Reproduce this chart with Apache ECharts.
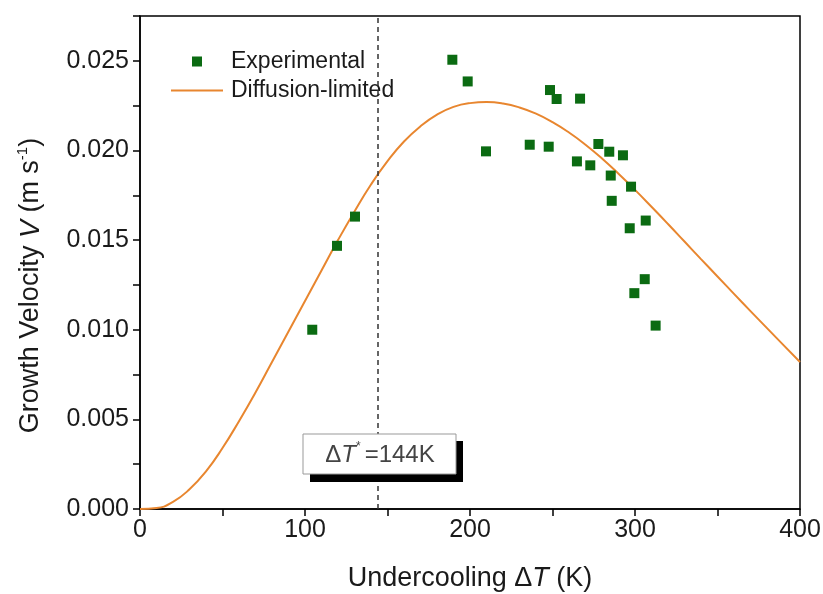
<!DOCTYPE html>
<html>
<head>
<meta charset="utf-8">
<script src="https://cdn.jsdelivr.net/npm/echarts@6/dist/echarts.min.js"></script>
<style>html,body{margin:0;padding:0;background:#fff}#c{width:823px;height:594px}</style>
</head>
<body>
<div id="c"></div>
<script>
// Experimental points: undercooling (K), growth velocity (m/s)
const expX = [104.4, 119.4, 130.3, 189.3, 198.6, 209.7, 236.2, 247.7, 248.5, 252.5, 266.7, 264.8, 272.9, 277.8, 284.4, 285.3, 285.9, 292.7, 297.6, 296.8, 306.5, 305.9, 299.6, 312.5];
const expY = [0.0100, 0.01468, 0.01631, 0.02506, 0.02385, 0.01995, 0.02032, 0.02021, 0.02337, 0.02287, 0.02289, 0.01939, 0.01917, 0.02036, 0.01993, 0.0186, 0.01719, 0.01973, 0.01798, 0.01566, 0.01609, 0.01282, 0.01204, 0.01023];
// Diffusion-limited model curve
const modelX = [0,10,20,30,40,50,60,70,80,90,100,110,120,130,140,150,160,170,180,190,200,210,220,230,240,250,260,270,280,290,300,310,320,330,340,350,360,370,380,390,400];
const modelY = [0,0.00005,0.0004,0.0011,0.0021,0.0034,0.0049,0.0065,0.0082,0.0099,0.0116,0.0133,0.0150,0.0166,0.0181,0.0194,0.0205,0.02135,0.0220,0.02243,0.02264,0.0227,0.02262,0.0224,0.02205,0.02158,0.0210,0.02032,0.01955,0.0187,0.0178,0.01686,0.0159,0.01492,0.01394,0.01297,0.0120,0.01104,0.01009,0.00914,0.0082];
const criticalUndercooling = 144;

const chart = echarts.init(document.getElementById('c'), null, {renderer:'canvas'});
const FONT = 'Liberation Sans, Arial, sans-serif';
const green = '#0b6b12', orange = '#e8862f', ink = '#1a1a1a';

chart.setOption({
  animation: false,
  textStyle: {fontFamily: FONT},
  grid: {left: 140, right: 23, top: 16, bottom: 85, show: true, borderColor: '#000', borderWidth: 1.5, containLabel: false, outerBoundsMode: 'none'},
  legend: {
    left: 170, top: 50, orient: 'vertical', itemWidth: 52, itemHeight: 10, itemGap: 6, padding: 0,
    textStyle: {fontSize: 23, color: ink, fontFamily: FONT, padding: [0,0,0,3]},
    data: [
      {name: 'Experimental', icon: 'path://M0,0L0.001,0 M21,0L31,0L31,10L21,10Z M52,10L52.001,10'},
      {name: 'Diffusion-limited', itemStyle: {opacity: 0}}
    ]
  },
  xAxis: {
    type: 'value', min: 0, max: 400, interval: 50,
    name: 'Undercooling {n|Δ}{i|T} (K)', nameLocation: 'middle', nameGap: 56,
    nameTextStyle: {fontSize: 27, color: ink, fontFamily: FONT,
      rich: {n: {fontSize: 27, color: ink, fontFamily: FONT}, i: {fontSize: 27, fontStyle: 'italic', color: ink, fontFamily: FONT}}},
    axisLine: {lineStyle: {color: '#000', width: 1.5}},
    axisTick: {inside: false, length: 7, lineStyle: {color: '#000', width: 1.5}},
    axisLabel: {fontSize: 25, color: ink, margin: 9, formatter: v => (v % 100 === 0 ? String(v) : '')},
    splitLine: {show: false}
  },
  yAxis: {
    type: 'value', min: 0, max: 0.0275, interval: 0.0025,
    name: 'Growth Velocity {i|V} (m s{s|-1})', nameLocation: 'middle', nameGap: 93, nameRotate: 90,
    nameTextStyle: {fontSize: 27, color: ink, fontFamily: FONT, padding: [0, 46, 0, 0],
      rich: {i: {fontSize: 27, fontStyle: 'italic', color: ink, fontFamily: FONT},
             s: {fontSize: 15, color: ink, fontFamily: FONT, verticalAlign: 'top', lineHeight: 32}}},
    axisLine: {lineStyle: {color: '#000', width: 1.5}},
    axisTick: {inside: false, length: 7, lineStyle: {color: '#000', width: 1.5}},
    axisLabel: {fontSize: 25, color: ink, margin: 11,
      formatter: v => { const k = Math.round(v / 0.0025); return (k % 2 === 0 && Math.abs(v - k*0.0025) < 1e-9 && k <= 10) ? (k*0.0025).toFixed(3) : ''; }},
    splitLine: {show: false}
  },
  series: [
    {
      name: 'Experimental', type: 'scatter', symbol: 'rect', symbolSize: 10,
      itemStyle: {color: green, opacity: 1},
      data: expX.map((x, i) => [x, expY[i]]), z: 3
    },
    {
      name: 'Diffusion-limited', type: 'line', smooth: 0.5, showSymbol: false, symbol: 'none',
      lineStyle: {color: orange, width: 2}, itemStyle: {color: orange},
      data: modelX.map((x, i) => [x, modelY[i]]), z: 2,
      markLine: {
        silent: true, symbol: 'none', label: {show: false},
        lineStyle: {color: '#333', type: [5, 4], width: 1.5},
        data: [{xAxis: criticalUndercooling}]
      }
    }
  ],
  graphic: [
    {type: 'rect', shape: {x: 310, y: 441, width: 153, height: 41}, style: {fill: '#000'}, z: 10},
    {type: 'rect', shape: {x: 303, y: 434, width: 153, height: 40}, style: {fill: '#fff', stroke: '#999', lineWidth: 1}, z: 11},
    {type: 'text', x: 380, y: 455, z: 12, style: {
      text: '{n|Δ}{i|T}{s|*}{n|=144K}', align: 'center', verticalAlign: 'middle',
      rich: {
        n: {fontSize: 24, fill: '#444', fontFamily: FONT},
        i: {fontSize: 24, fill: '#444', fontStyle: 'italic', fontFamily: FONT},
        s: {fontSize: 12, fill: '#444', fontFamily: FONT, verticalAlign: 'top', lineHeight: 28, padding: [0, 4, 0, 0]}
      }
    }}
  ]
});
</script>
</body>
</html>
